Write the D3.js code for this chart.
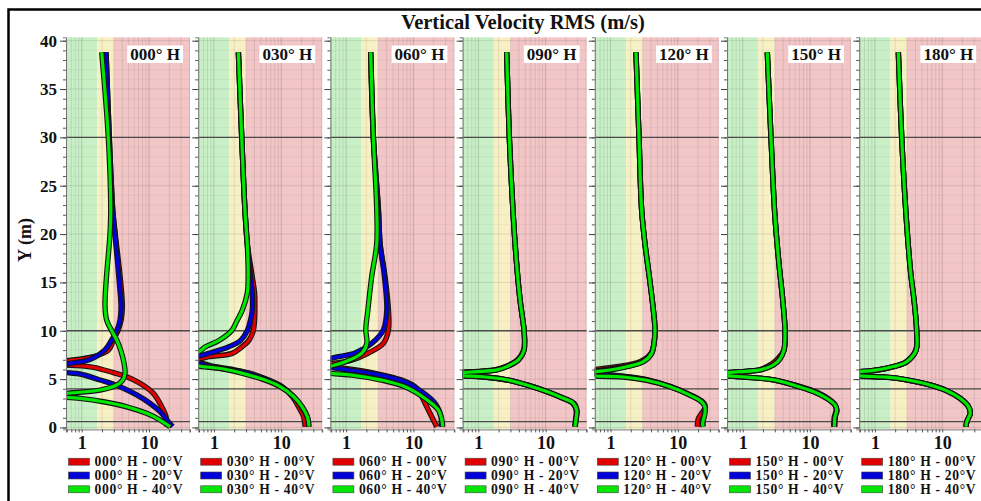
<!DOCTYPE html>
<html>
<head>
<meta charset="utf-8">
<script src="https://cdn.jsdelivr.net/npm/d3@7"></script>
<style>
	body { margin: 0; background: #fff; }
	svg text { font-family: "Liberation Serif", "Times New Roman", serif; font-weight: bold; fill: #111; }
</style>
</head>
<body>
<svg id="svg_chart" width="981" height="501"></svg>
<script>

// ====================================================
// data: [rms (m/s), Y (m)] along each profile, top down

var panel_names = ["000° H", "030° H", "060° H", "090° H", "120° H", "150° H", "180° H"];
var tilt_names = ["00°V", "20°V", "40°V"];

var y_ticks = [0, 5, 10, 15, 20, 25, 30, 35, 40];
var x_tick_labels = [1, 10];
var ref_lines = [30, 10, 4, 0.6];
var band_limits = [1.7, 3];

var h000_v00 = [[2.30,38.8],[2.57,30],[2.89,22.5],[3.15,20],[3.80,15],[4.02,12.5],[3.85,11.1],[3.45,10],[2.95,9.05],[2.50,8.0],[1.49,7.32],[0.60,6.9],[0.30,6.68],[0.60,6.46],[1.49,6.22],[2.95,5.67],[4.66,5.25],[7.35,4.57],[11.6,3.53],[15.4,2.15],[17.9,1.12],[18.3,0.1]];
var h000_v20 = [[2.30,38.8],[2.57,30],[2.89,22.5],[3.12,20],[3.62,15],[3.84,12.5],[3.71,11.1],[3.31,10],[2.79,9.05],[2.20,8.0],[1.30,7.0],[0.60,6.57],[0.30,6.1],[0.60,5.67],[0.94,5.53],[1.87,4.91],[3.71,4.22],[6.56,3.36],[10.3,2.5],[14.6,1.63],[19.4,0.6],[22.4,0.1]];
var h000_v40 = [[1.98,38.8],[2.48,30],[2.70,22.5],[2.63,20],[2.30,15],[2.22,12.5],[2.35,11.1],[2.79,10],[3.31,9.05],[3.79,8.0],[4.26,6.63],[4.40,5.59],[4.06,4.9],[3.31,4.39],[1.87,3.87],[0.75,3.59],[0.30,3.3],[0.94,3.01],[2.10,2.66],[4.66,2.14],[9.2,1.46],[14.6,0.77],[20.5,0.08]];

var h030_v00 = [[2.31,38.8],[2.59,30],[2.89,22.5],[3.13,19],[3.71,15.6],[4.02,13.9],[4.06,12.1],[4.02,11.1],[3.84,10],[3.31,9.0],[2.63,8.35],[1.86,7.66],[0.84,7.32],[0.60,7.08],[0.32,6.9],[0.60,6.7],[1.05,6.28],[2.08,5.94],[3.48,5.59],[6.52,4.9],[10.3,4.21],[14.7,3.18],[18.1,2.14],[21.5,1.11],[22.7,0.08]];
var h030_v20 = [[2.31,38.8],[2.59,30],[2.89,22.5],[3.13,19],[3.50,15.6],[3.71,13.9],[3.71,12.1],[3.50,11.1],[3.13,10],[2.49,9.0],[1.67,8.35],[0.84,7.66],[0.60,7.38],[0.32,7.0],[0.60,6.63],[1.05,6.2],[2.08,5.9],[3.48,5.55],[6.52,4.85],[10.3,4.18],[15.4,3.18],[20.0,2.14],[24.3,1.11],[25.7,0.08]];
var h030_v40 = [[2.31,38.8],[2.59,30],[2.89,22.5],[3.13,19],[3.23,15.6],[3.13,13.9],[2.63,12.1],[2.22,11.1],[1.83,10],[1.19,9.0],[0.75,8.35],[0.60,7.84],[0.32,7.1],[0.60,6.35],[0.80,6.25],[1.40,6.05],[2.50,5.65],[5.50,4.95],[9.5,4.25],[15.0,3.25],[20.5,2.14],[24.5,1.11],[25.9,0.08]];

var h060_v00 = [[2.32,38.8],[2.54,30],[3.02,22.5],[3.20,19],[3.79,15.6],[4.26,12.1],[4.26,10.1],[3.58,8.7],[2.14,7.7],[1.21,6.97],[0.60,6.6],[0.32,6.45],[0.60,6.28],[0.97,6.11],[2.70,5.6],[6.70,4.9],[10.6,4.2],[13.3,3.18],[15.8,2.14],[18.7,1.11],[22.2,0.08]];
var h060_v20 = [[2.32,38.8],[2.54,30],[3.02,22.5],[3.20,19],[3.71,15.6],[4.02,12.1],[3.58,10.1],[2.40,8.7],[1.36,7.7],[0.77,7.32],[0.60,7.15],[0.32,6.7],[0.60,6.21],[0.97,6.0],[2.70,5.53],[7.50,4.73],[13.3,3.7],[21.0,2.49],[25.7,1.11],[25.7,0.08]];
var h060_v40 = [[2.32,38.8],[2.54,30],[2.85,22.5],[2.85,19],[2.40,15.6],[2.10,12.1],[1.96,10.1],[2.03,8.7],[1.71,7.7],[0.97,6.8],[0.60,6.35],[0.32,6.0],[0.60,5.6],[1.21,5.42],[3.38,4.9],[7.50,4.21],[14.9,3.0],[23.5,1.8],[27.0,0.42],[27.0,0.08]];

var h090_v00 = [[2.64,38.8],[2.89,30],[3.30,22],[3.70,17],[4.17,13.2],[4.60,11],[4.78,10],[4.72,8],[3.80,6.98],[2.55,6.3],[1.80,5.97],[0.95,5.8],[0.62,5.72],[0.33,5.52],[0.63,5.35],[1.06,5.27],[2.64,4.93],[5.25,4.4],[10.2,3.71],[18.0,3.02],[25.3,2.5],[28.4,1.8],[27.8,0.77],[27.0,0.08]];
var h090_v20 = [[2.64,38.8],[2.89,30],[3.30,22],[3.70,17],[4.17,13.2],[4.60,11],[4.80,10],[4.78,8],[3.93,6.98],[2.64,6.29],[1.88,5.95],[0.95,5.77],[0.63,5.7],[0.33,5.5],[0.63,5.33],[1.06,5.25],[2.70,4.9],[5.40,4.38],[10.8,3.7],[19.0,3.0],[26.6,2.5],[29.2,1.8],[28.4,0.77],[27.5,0.08]];
var h090_v40 = [[2.64,38.8],[2.89,30],[3.30,22],[3.70,17],[4.17,13.2],[4.60,11],[4.78,10],[4.78,8],[3.93,6.98],[2.64,6.29],[1.88,5.95],[0.95,5.77],[0.63,5.7],[0.33,5.5],[0.63,5.33],[1.06,5.27],[2.64,4.93],[5.25,4.4],[10.4,3.71],[18.3,3.02],[25.8,2.5],[29.0,1.8],[28.2,0.77],[27.3,0.08]];

var h120_v00 = [[2.39,38.8],[2.65,30],[2.90,22.5],[3.25,19],[3.77,15.6],[4.33,12.15],[4.58,10.08],[4.43,8.7],[4.00,7.66],[2.74,6.8],[1.23,6.28],[0.60,6.0],[0.32,5.8],[0.60,5.59],[1.55,5.3],[3.45,4.95],[7.66,4.25],[15.6,3.35],[23.2,2.66],[25.6,2.14],[22.5,1.45],[20.2,0.94],[19.5,0.08]];
var h120_v20 = [[2.39,38.8],[2.65,30],[2.90,22.5],[3.25,19],[3.77,15.6],[4.33,12.15],[4.58,10.08],[4.43,8.7],[4.09,7.66],[3.00,6.8],[1.60,6.28],[0.80,5.97],[0.60,5.85],[0.32,5.7],[0.60,5.5],[1.55,5.27],[3.45,4.92],[7.66,4.23],[15.4,3.35],[22.9,2.66],[25.5,2.14],[24.6,1.45],[23.5,0.42],[23.7,0.08]];
var h120_v40 = [[2.39,38.8],[2.65,30],[2.90,22.5],[3.25,19],[3.77,15.6],[4.33,12.15],[4.58,10.08],[4.43,8.7],[4.09,7.66],[3.07,6.8],[1.74,6.28],[0.98,5.94],[0.60,5.77],[0.32,5.55],[0.60,5.32],[1.55,5.22],[3.45,4.88],[7.66,4.21],[15.1,3.35],[22.6,2.66],[25.3,2.14],[25.3,1.45],[23.4,0.42],[23.9,0.08]];

var h150_v00 = [[2.32,38.8],[2.63,30],[3.00,22],[3.45,17],[3.93,13.2],[4.25,10],[4.10,8],[3.30,7.1],[2.60,6.5],[1.75,5.96],[0.91,5.77],[0.60,5.67],[0.32,5.5],[0.60,5.33],[1.15,5.2],[2.90,4.93],[5.90,4.4],[11.8,3.71],[18.3,3.02],[23.5,2.33],[24.5,1.8],[23.0,1.11],[22.5,0.08]];
var h150_v20 = [[2.32,38.8],[2.63,30],[3.00,22],[3.45,17],[3.93,13.2],[4.25,10],[4.10,8],[3.55,7.1],[2.85,6.46],[1.81,5.95],[0.91,5.77],[0.60,5.67],[0.32,5.5],[0.60,5.33],[1.15,5.2],[2.85,4.93],[5.65,4.4],[11.2,3.71],[17.7,3.02],[23.5,2.33],[25.2,1.8],[23.8,1.11],[23.4,0.08]];
var h150_v40 = [[2.32,38.8],[2.63,30],[3.00,22],[3.45,17],[3.93,13.2],[4.25,10],[4.10,8],[3.58,7.1],[2.85,6.46],[1.81,5.95],[0.91,5.77],[0.60,5.67],[0.32,5.5],[0.60,5.33],[1.15,5.2],[2.85,4.93],[5.65,4.4],[11.2,3.71],[17.7,3.02],[23.5,2.33],[24.9,1.8],[23.5,1.11],[23.0,0.08]];

var h180_v00 = [[2.23,38.8],[2.50,30],[2.90,22],[3.40,16],[3.81,13.2],[4.17,10],[4.10,8],[3.00,6.8],[1.90,6.3],[0.95,5.9],[0.60,5.77],[0.32,5.55],[0.60,5.33],[1.50,5.2],[2.96,4.93],[6.58,4.4],[11.7,3.8],[18.4,3.02],[24.6,2.16],[26.1,1.45],[23.2,0.6],[22.6,0.08]];
var h180_v20 = [[2.23,38.8],[2.50,30],[2.90,22],[3.40,16],[3.81,13.2],[4.17,10],[4.05,8],[2.85,6.75],[1.70,6.22],[0.85,5.82],[0.60,5.7],[0.32,5.5],[0.60,5.3],[1.50,5.18],[2.96,4.92],[6.58,4.4],[11.7,3.8],[18.4,3.02],[24.6,2.16],[26.1,1.45],[23.2,0.6],[22.6,0.08]];
var h180_v40 = [[2.23,38.8],[2.50,30],[2.90,22],[3.40,16],[3.81,13.2],[4.17,10],[4.10,8],[2.96,6.8],[1.88,6.3],[0.95,5.9],[0.60,5.77],[0.32,5.55],[0.60,5.33],[1.50,5.2],[2.96,4.93],[6.58,4.4],[11.7,3.8],[18.4,3.02],[24.6,2.16],[26.1,1.45],[23.2,0.6],[22.6,0.08]];

var panel_curves = [
	[h000_v00, h000_v20, h000_v40],
	[h030_v00, h030_v20, h030_v40],
	[h060_v00, h060_v20, h060_v40],
	[h090_v00, h090_v20, h090_v40],
	[h120_v00, h120_v20, h120_v40],
	[h150_v00, h150_v20, h150_v40],
	[h180_v00, h180_v20, h180_v40]
];

// ====================================================
// geometry and styles

var panel_left0 = 66;
var panel_step = 132.2;
var panel_w = 124;
var plot_top = 37.3;
var plot_bottom = 429.4;

var line_colors = ["#e00000", "#0000d8", "#00e600"];
var band_colors = ["#c9efc6", "#f7f0c4", "#f2c6c6"];

var x_scale = d3.scaleLog()
	.domain([0.584, 40.66])
	.range([0, panel_w]);

var y_scale = d3.scaleLinear()
	.domain([-0.2, 40.35])
	.range([plot_bottom, plot_top]);

var x_grid = [0.6, 0.7, 0.8, 0.9, 1, 2, 3, 4, 5, 6, 7, 8, 9, 10, 20, 30, 40];
var y_minor = d3.range(0, 41, 1);

var svg = d3.select("svg#svg_chart");

// outer frame, runs off the right and bottom edges
svg.append("rect")
	.attr("x", 8.5).attr("y", 9.5)
	.attr("width", 1200).attr("height", 800)
	.attr("fill", "none")
	.attr("stroke", "#000")
	.attr("stroke-width", 2.5);

svg.append("text")
	.attr("x", 523).attr("y", 28.5)
	.attr("text-anchor", "middle")
	.style("font-size", "20.5px")
	.text("Vertical Velocity RMS (m/s)");

svg.append("text")
	.attr("transform", "translate(31,240) rotate(-90)")
	.attr("text-anchor", "middle")
	.style("font-size", "18px")
	.text("Y (m)");

var profile_line = d3.line()
	.x(function(d) { return x_scale(d[0]); })
	.y(function(d) { return y_scale(d[1]); })
	.curve(d3.curveCatmullRom.alpha(0.5));

panel_names.forEach(function(name, i) {
	var left = panel_left0 + i * panel_step;
	var g = svg.append("g")
		.attr("transform", "translate(" + left + ",0)");

	var clip_id = "clip_" + i;
	g.append("clipPath").attr("id", clip_id)
		.append("rect")
		.attr("x", 0).attr("y", plot_top)
		.attr("width", panel_w).attr("height", plot_bottom - plot_top);

	// background bands: green / yellow / red
	var edges = [x_scale.domain()[0], band_limits[0], band_limits[1], x_scale.domain()[1]];
	for (var b = 0; b < 3; b++) {
		g.append("rect")
			.attr("x", x_scale(edges[b]))
			.attr("y", plot_top)
			.attr("width", x_scale(edges[b + 1]) - x_scale(edges[b]))
			.attr("height", plot_bottom - plot_top)
			.attr("fill", band_colors[b]);
	}

	// grid
	g.append("g").selectAll("line")
		.data(x_grid).enter().append("line")
		.attr("x1", function(d) { return x_scale(d); })
		.attr("x2", function(d) { return x_scale(d); })
		.attr("y1", plot_top).attr("y2", plot_bottom)
		.attr("stroke", "#000")
		.attr("stroke-opacity", function(d) { return (d == 1 || d == 10) ? 0.16 : 0.09; })
		.attr("stroke-width", 1);

	g.append("g").selectAll("line")
		.data(y_minor).enter().append("line")
		.attr("x1", 0).attr("x2", panel_w)
		.attr("y1", function(d) { return y_scale(d); })
		.attr("y2", function(d) { return y_scale(d); })
		.attr("stroke", "#000")
		.attr("stroke-opacity", function(d) { return d % 5 == 0 ? 0.1 : 0.045; })
		.attr("stroke-width", 1);

	// dark reference heights
	g.append("g").selectAll("line")
		.data(ref_lines).enter().append("line")
		.attr("x1", 0).attr("x2", panel_w)
		.attr("y1", function(d) { return y_scale(d); })
		.attr("y2", function(d) { return y_scale(d); })
		.attr("stroke", "#4a4a4a")
		.attr("stroke-width", 1.3);

	// profiles: each with a black outline, red then blue then green on top
	var lines_g = g.append("g").attr("clip-path", "url(#" + clip_id + ")");
	panel_curves[i].forEach(function(curve, k) {
		lines_g.append("path")
			.attr("d", profile_line(curve))
			.attr("fill", "none")
			.attr("stroke", "#141414")
			.attr("stroke-width", 5.4)
			.attr("stroke-linejoin", "round");
		lines_g.append("path")
			.attr("d", profile_line(curve))
			.attr("fill", "none")
			.attr("stroke", line_colors[k])
			.attr("stroke-width", 3.2)
			.attr("stroke-linejoin", "round");
	});

	// left axis: minor ticks every metre, labels only on the first panel
	var ax_minor = g.append("g")
		.call(d3.axisLeft(y_scale).tickValues(y_minor).tickSize(3).tickFormat(function() { return ""; }));
	ax_minor.select(".domain").attr("stroke", "#777");
	ax_minor.selectAll(".tick line").attr("stroke", "#555");

	var ax_major = g.append("g")
		.call(d3.axisLeft(y_scale).tickValues(y_ticks).tickSize(6).tickPadding(3)
			.tickFormat(i == 0 ? d3.format("d") : function() { return ""; }));
	ax_major.select(".domain").remove();
	ax_major.selectAll(".tick line").attr("stroke", "#444");
	ax_major.selectAll("text").style("font-size", "17px").attr("fill", "#111");

	// bottom axis
	var ax_x = g.append("g")
		.attr("transform", "translate(0," + plot_bottom + ")")
		.call(d3.axisBottom(x_scale).tickValues(x_grid).tickSize(3).tickPadding(4)
			.tickFormat(function(d) { return x_tick_labels.indexOf(d) >= 0 ? d : ""; }));
	ax_x.select(".domain").attr("stroke", "#777");
	ax_x.selectAll(".tick line").attr("stroke", "#555");
	ax_x.selectAll("text").style("font-size", "18px").attr("fill", "#111");

	// panel label in a white box, top right
	var lbl = g.append("g");
	var lbl_text = lbl.append("text")
		.attr("x", panel_w - 10).attr("y", 59.5)
		.attr("text-anchor", "end")
		.style("font-size", "17px")
		.text(name);
	var bb = lbl_text.node().getBBox();
	lbl.insert("rect", "text")
		.attr("x", bb.x - 3).attr("y", 45.5)
		.attr("width", bb.width + 6).attr("height", 17.5)
		.attr("fill", "#fff");

	// legend
	var legend = g.append("g").attr("transform", "translate(2.5,0)");
	tilt_names.forEach(function(t, k) {
		var cy = 461.7 + k * 13.8;
		legend.append("rect")
			.attr("x", 0).attr("y", cy - 3.5)
			.attr("width", 21).attr("height", 7)
			.attr("fill", line_colors[k])
			.attr("stroke", "#444")
			.attr("stroke-width", 0.6);
		legend.append("text")
			.attr("x", 26).attr("y", cy + 4.6)
			.attr("textLength", 88)
			.style("font-size", "13.6px")
			.text(name + " - " + t);
	});
});

</script>
</body>
</html>
